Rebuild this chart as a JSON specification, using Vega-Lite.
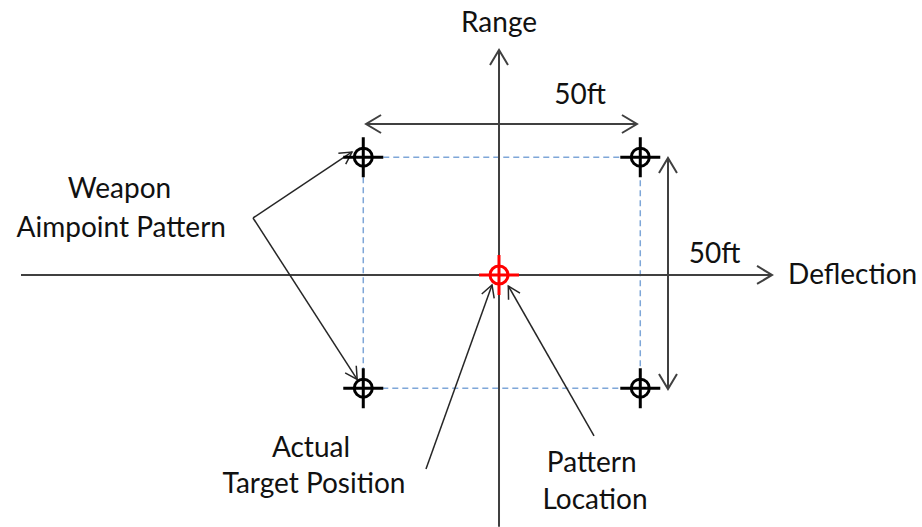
{
  "$schema": "https://vega.github.io/schema/vega-lite/v6.json",
  "width": 922,
  "height": 527,
  "autosize": "none",
  "padding": 0,
  "background": "white",
  "config": {"view": {"stroke": null}},
  "datasets": {
    "segments": [
      {"kind": "axis", "name": "Range", "x": 0, "y": -54.5, "x2": 0, "y2": 48.7},
      {"kind": "axis", "name": "Deflection", "x": -86.28, "y": 0, "x2": 49.28, "y2": 0},
      {"kind": "dimension", "name": "50ft deflection", "x": -24.0, "y": 32.68, "x2": 24.9, "y2": 32.68},
      {"kind": "dimension", "name": "50ft range", "x": 30.5, "y": 25.32, "x2": 30.5, "y2": -24.68},
      {"kind": "callout", "name": "Weapon Aimpoint Pattern (upper)", "x": -44.4, "y": 12.34, "x2": -26.53, "y2": 26.62},
      {"kind": "callout", "name": "Weapon Aimpoint Pattern (lower)", "x": -44.4, "y": 12.34, "x2": -25.6, "y2": -22.6},
      {"kind": "callout", "name": "Actual Target Position", "x": -13.18, "y": -41.99, "x2": -1.26, "y2": -2.16},
      {"kind": "callout", "name": "Pattern Location", "x": 17.15, "y": -34.85, "x2": 1.68, "y2": -2.38}
    ],
    "heads": [
      {"kind": "axis", "x": 0, "y": 48.7, "angle": 0},
      {"kind": "axis", "x": 49.28, "y": 0, "angle": 90},
      {"kind": "axis", "x": -24.0, "y": 32.68, "angle": 270},
      {"kind": "axis", "x": 24.9, "y": 32.68, "angle": 90},
      {"kind": "axis", "x": 30.5, "y": 25.32, "angle": 0},
      {"kind": "axis", "x": 30.5, "y": -24.68, "angle": 180},
      {"kind": "callout", "x": -26.53, "y": 26.62, "angle": 56.3},
      {"kind": "callout", "x": -25.6, "y": -22.6, "angle": 147.3},
      {"kind": "callout", "x": -1.26, "y": -2.16, "angle": 19.8},
      {"kind": "callout", "x": 1.68, "y": -2.38, "angle": 330.2}
    ],
    "points": [
      {"role": "aimpoint", "x": -24.5, "y": 25.5},
      {"role": "aimpoint", "x": 25.5, "y": 25.5},
      {"role": "aimpoint", "x": -24.5, "y": -24.5},
      {"role": "aimpoint", "x": 25.5, "y": -24.5},
      {"role": "target", "x": 0, "y": 0}
    ],
    "pattern": [
      {"x": -24.5, "x2": 25.5, "y": 25.5, "y2": -24.5}
    ],
    "labels": [
      {"text": "Range", "x": 0, "y": 52.53},
      {"text": "Deflection", "x": 52.17, "y": -2.01},
      {"text": "50ft", "x": 14.62, "y": 37.01},
      {"text": "50ft", "x": 38.9, "y": 2.53},
      {"text": "Weapon", "x": -68.5, "y": 16.6},
      {"text": "Aimpoint Pattern", "x": -68.18, "y": 8.29},
      {"text": "Actual", "x": -33.94, "y": -39.46},
      {"text": "Target Position", "x": -33.39, "y": -47.25},
      {"text": "Pattern", "x": 16.73, "y": -42.58},
      {"text": "Location", "x": 17.33, "y": -50.71}
    ]
  },
  "encoding": {
    "x": {"field": "x", "type": "quantitative", "axis": null, "scale": {"domain": [-90.07, 76.35], "nice": false, "zero": false}},
    "y": {"field": "y", "type": "quantitative", "axis": null, "scale": {"domain": [-54.55, 59.52], "nice": false, "zero": false}}
  },
  "layer": [
    {
      "data": {"name": "pattern"},
      "mark": {"type": "rect", "filled": false, "stroke": "#7ea6d8", "strokeWidth": 1.5, "strokeDash": [6, 4]},
      "encoding": {"x2": {"field": "x2"}, "y2": {"field": "y2"}}
    },
    {
      "data": {"name": "segments"},
      "transform": [{"filter": "datum.kind !== 'callout'"}],
      "mark": {"type": "rule", "stroke": "#404040", "strokeWidth": 2},
      "encoding": {"x2": {"field": "x2"}, "y2": {"field": "y2"}}
    },
    {
      "data": {"name": "segments"},
      "transform": [{"filter": "datum.kind === 'callout'"}],
      "mark": {"type": "rule", "stroke": "#262626", "strokeWidth": 1.5},
      "encoding": {"x2": {"field": "x2"}, "y2": {"field": "y2"}}
    },
    {
      "data": {"name": "heads"},
      "transform": [{"filter": "datum.kind === 'axis'"}],
      "mark": {"type": "point", "shape": "M -0.6 1 L 0 0 L 0.6 1", "filled": false, "stroke": "#404040", "strokeWidth": 2, "size": 900, "opacity": 1},
      "encoding": {"angle": {"field": "angle", "type": "quantitative", "scale": null}}
    },
    {
      "data": {"name": "heads"},
      "transform": [{"filter": "datum.kind === 'callout'"}],
      "mark": {"type": "point", "shape": "M -0.55 1 L 0 0 L 0.55 1", "filled": false, "stroke": "#262626", "strokeWidth": 1.5, "size": 576, "opacity": 1},
      "encoding": {"angle": {"field": "angle", "type": "quantitative", "scale": null}}
    },
    {
      "data": {"name": "points"},
      "mark": {"type": "point", "shape": "circle", "filled": false, "strokeWidth": 3, "size": 324, "opacity": 1},
      "encoding": {"stroke": {"field": "role", "type": "nominal", "scale": {"domain": ["aimpoint", "target"], "range": ["#000000", "#ff0000"]}, "legend": null}}
    },
    {
      "data": {"name": "points"},
      "mark": {"type": "point", "shape": "M -1 0 L 1 0 M 0 -1 L 0 1", "filled": false, "strokeWidth": 3, "size": 1600, "opacity": 1},
      "encoding": {"stroke": {"field": "role", "type": "nominal", "scale": {"domain": ["aimpoint", "target"], "range": ["#000000", "#ff0000"]}, "legend": null}}
    },
    {
      "data": {"name": "labels"},
      "transform": [{"filter": "datum.text !== 'Deflection'"}],
      "mark": {"type": "text", "font": "Lato", "fontSize": 28, "align": "center", "baseline": "alphabetic", "color": "#111111"},
      "encoding": {"text": {"field": "text"}}
    },
    {
      "data": {"name": "labels"},
      "transform": [{"filter": "datum.text === 'Deflection'"}],
      "mark": {"type": "text", "font": "Lato", "fontSize": 28, "align": "left", "baseline": "alphabetic", "color": "#111111"},
      "encoding": {"text": {"field": "text"}}
    }
  ]
}
